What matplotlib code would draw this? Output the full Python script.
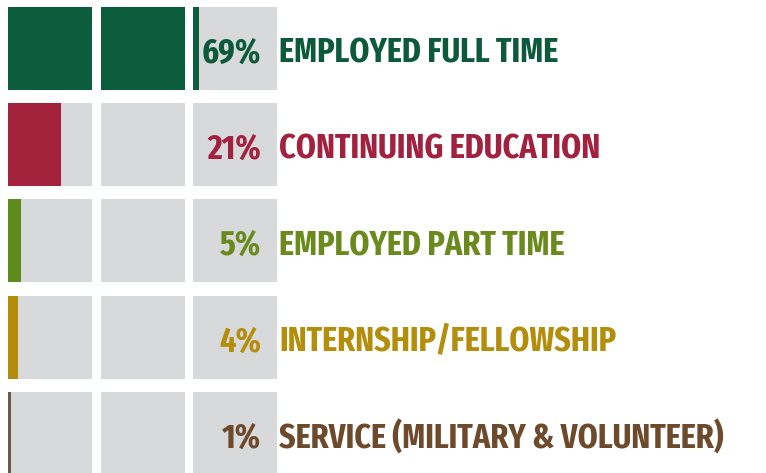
import matplotlib
matplotlib.use("Agg")
import matplotlib.pyplot as plt
from matplotlib.patches import Rectangle

# data
labels = ["EMPLOYED FULL TIME", "CONTINUING EDUCATION", "EMPLOYED PART TIME",
          "INTERNSHIP/FELLOWSHIP", "SERVICE (MILITARY & VOLUNTEER)"]
shares = [69, 21, 5, 4, 1]
bar_colors = ["#0b5d3d", "#a3233d", "#5f8a1c", "#b38c0c", "#6e5a4a"]
text_colors = ["#0c5a3b", "#a2213f", "#6a8a1d", "#b48d0b", "#6d4a2c"]

# layout (pixels)
W, H = 766, 473
n_boxes = 3
box_w, box_h = 84, 83
gap_x = 8.5
row_pitch = 96.2
x0, y0 = 8, 7
grey = "#d8d9db"

fig = plt.figure(figsize=(W / 100, H / 100), dpi=100)
ax = fig.add_axes([0, 0, 1, 1])
ax.set_xlim(0, W)
ax.set_ylim(H, 0)
ax.axis("off")

font = ["Fira Sans Extra Condensed", "DejaVu Sans"]
fs = 25
for i, (lab, v) in enumerate(zip(labels, shares)):
    top = y0 + i * row_pitch
    filled = v / 100 * n_boxes  # how many boxes worth of colour
    for b in range(n_boxes):
        left = x0 + b * (box_w + gap_x)
        ax.add_patch(Rectangle((left, top), box_w, box_h, color=grey, lw=0))
        frac = min(max(filled - b, 0), 1)
        if frac > 0:
            ax.add_patch(Rectangle((left, top), box_w * frac, box_h,
                                   color=bar_colors[i], lw=0))
    cy = top + box_h / 2 + 5
    ax.text(261, cy, f"{v}%", ha="right", va="center", fontsize=fs,
            fontweight="bold", color=text_colors[i], family=font)
    ax.text(279, cy, lab, ha="left", va="center", fontsize=fs,
            fontweight="bold", color=text_colors[i], family=font)

fig.savefig("out.png", dpi=100)
